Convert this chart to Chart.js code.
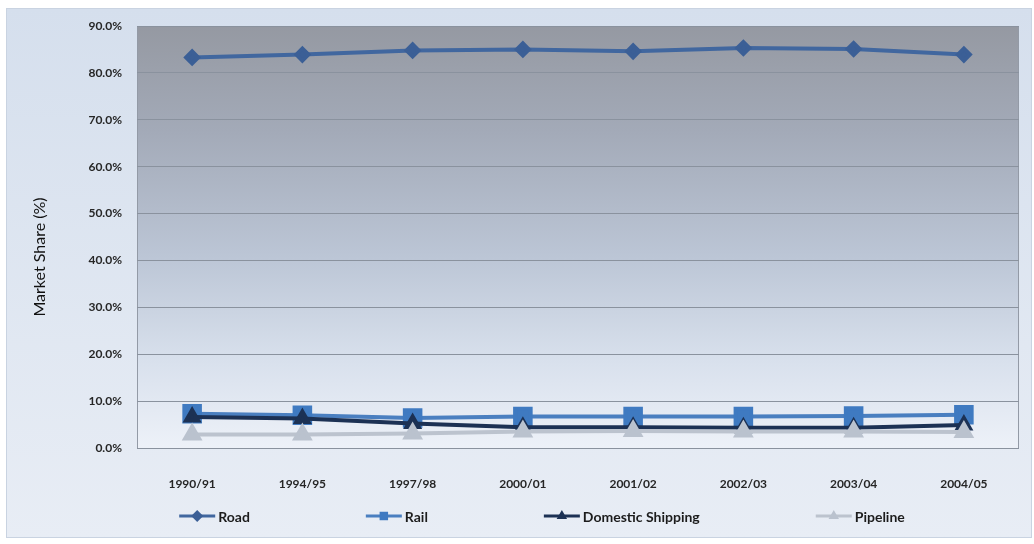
<!DOCTYPE html>
<html>
<head>
<meta charset="utf-8">
<script src="https://cdn.jsdelivr.net/npm/chart.js@4"></script>
<style>
  html, body { margin: 0; padding: 0; background: #ffffff; }
  #wrap { width: 1034px; height: 544px; }
</style>
</head>
<body>
<div id="wrap"><canvas id="grafico" width="1034" height="544"></canvas></div>
<script>
// periodos y cuota de mercado por modo de transporte (%)
const periodos = ['1990/91', '1994/95', '1997/98', '2000/01', '2001/02', '2002/03', '2003/04', '2004/05'];
const road = [83.3, 83.9, 84.8, 85.0, 84.6, 85.3, 85.1, 83.9];
const rail = [7.3, 7.0, 6.4, 6.7, 6.7, 6.7, 6.8, 7.1];
const shipping = [6.6, 6.3, 5.2, 4.4, 4.4, 4.3, 4.3, 4.9];
const pipeline = [2.9, 2.9, 3.1, 3.5, 3.6, 3.5, 3.5, 3.4];
const ejeY = [0, 10, 20, 30, 40, 50, 60, 70, 80, 90];
const tituloY = 'Market Share (%)';

function marcador(ctx, estilo, x, y, r, color) {
    ctx.save();
    ctx.fillStyle = color;
    ctx.beginPath();
    if (estilo === 'rectRot') {
        ctx.moveTo(x, y - r); ctx.lineTo(x + r, y); ctx.lineTo(x, y + r); ctx.lineTo(x - r, y);
    } else if (estilo === 'rect') {
        const s = r * Math.SQRT1_2;
        ctx.rect(x - s, y - s, 2 * s, 2 * s);
    } else {
        ctx.moveTo(x, y - r); ctx.lineTo(x + r * 0.87, y + r * 0.5); ctx.lineTo(x - r * 0.87, y + r * 0.5);
    }
    ctx.closePath();
    ctx.fill();
    ctx.restore();
}

// fondo del grafico y del area de trazado
const fondo = {
    id: 'fondo',
    beforeDraw(chart) {
        const ctx = chart.ctx;
        const a = chart.chartArea;
        ctx.save();
        let g = ctx.createLinearGradient(0, 8, 0, 538);
        g.addColorStop(0, '#d5dfed');
        g.addColorStop(1, '#e8edf5');
        ctx.fillStyle = g;
        ctx.fillRect(6, 8, 1026, 530);
        ctx.strokeStyle = '#c9d3e1';
        ctx.lineWidth = 1;
        ctx.strokeRect(6.5, 8.5, 1025, 529);

        g = ctx.createLinearGradient(0, a.top, 0, a.bottom);
        g.addColorStop(0, '#9599a2');
        g.addColorStop(0.25, '#a3aab8');
        g.addColorStop(0.55, '#bcc6d6');
        g.addColorStop(0.8, '#d9e1ed');
        g.addColorStop(1, '#edf1f8');
        ctx.fillStyle = g;
        ctx.fillRect(a.left, a.top, a.right - a.left, a.bottom - a.top);
        ctx.strokeStyle = '#939aa6';
        ctx.strokeRect(a.left + 0.5, a.top + 0.5, a.right - a.left - 1, a.bottom - a.top);

        // titulo del eje vertical
        ctx.translate(40, 257);
        ctx.rotate(-Math.PI / 2);
        ctx.font = '16px Lato';
        ctx.fillStyle = '#111111';
        ctx.textAlign = 'center';
        ctx.textBaseline = 'middle';
        ctx.fillText(tituloY, 0, 0);
        ctx.restore();
    }
};

// leyenda: linea con el marcador de cada serie
const leyenda = {
    id: 'leyenda',
    afterDraw(chart) {
        const ctx = chart.ctx;
        const sets = chart.data.datasets;
        const largo = 36, hueco = 3, sep = 116, y = 516;
        ctx.save();
        ctx.font = 'bold 14px Lato';
        ctx.textBaseline = 'middle';
        const anchos = sets.map(d => largo + hueco + ctx.measureText(d.label).width);
        const total = anchos.reduce((s, w) => s + w, 0) + sep * (sets.length - 1);
        let x = 542 - total / 2;
        sets.forEach((d, i) => {
            ctx.strokeStyle = d.borderColor;
            ctx.lineWidth = 3;
            ctx.beginPath();
            ctx.moveTo(x, y);
            ctx.lineTo(x + largo, y);
            ctx.stroke();
            marcador(ctx, d.pointStyle, x + largo / 2, y, 6, d.pointBackgroundColor);
            ctx.fillStyle = '#1c1c1c';
            ctx.fillText(d.label, x + largo + hueco, y + 1);
            x += anchos[i] + sep;
        });
        ctx.restore();
    }
};

new Chart(document.getElementById('grafico'), {
    type: 'line',
    data: {
        labels: periodos,
        datasets: [{
            label: 'Road',
            data: road,
            borderColor: '#41679f',
            pointBackgroundColor: '#3b5f96',
            pointBorderColor: '#3b5f96',
            pointStyle: 'rectRot',
            pointRadius: 6,
            borderWidth: 4,
            order: 4
        }, {
            label: 'Rail',
            data: rail,
            borderColor: '#4a7fc0',
            pointBackgroundColor: '#3f7ac1',
            pointBorderColor: '#3f7ac1',
            pointStyle: 'rect',
            pointRadius: 11,
            borderWidth: 4,
            order: 3
        }, {
            label: 'Domestic Shipping',
            data: shipping,
            borderColor: '#1c3154',
            pointBackgroundColor: '#1c3154',
            pointBorderColor: '#1c3154',
            pointStyle: 'triangle',
            pointRadius: 7,
            borderWidth: 4,
            order: 2
        }, {
            label: 'Pipeline',
            data: pipeline,
            borderColor: '#bcc3ce',
            pointBackgroundColor: '#bac2ce',
            pointBorderColor: '#bac2ce',
            pointStyle: 'triangle',
            pointRadius: 8,
            borderWidth: 4,
            order: 1
        }]
    },
    options: {
        responsive: false,
        animation: false,
        layout: { padding: { left: 0, top: 26, right: 6, bottom: 56 } },
        plugins: {
            legend: { display: false },
            tooltip: { enabled: false }
        },
        scales: {
            x: {
                offset: true,
                grid: { display: false },
                border: { display: false },
                ticks: {
                    padding: 21,
                    color: '#262626',
                    font: { family: 'Lato', size: 12, weight: 'bold' }
                },
                afterFit(s) { s.height = 40; }
            },
            y: {
                min: 0,
                max: 90,
                afterBuildTicks(s) { s.ticks = ejeY.map(v => ({ value: v })); },
                grid: { color: '#8a929e', lineWidth: 1, drawTicks: false },
                border: { display: false },
                ticks: {
                    padding: 15,
                    color: '#262626',
                    font: { family: 'Lato', size: 12, weight: 'bold' },
                    callback: v => v.toFixed(1) + '%'
                },
                afterFit(s) { s.width = 137; }
            }
        }
    },
    plugins: [fondo, leyenda]
});
</script>
</body>
</html>
